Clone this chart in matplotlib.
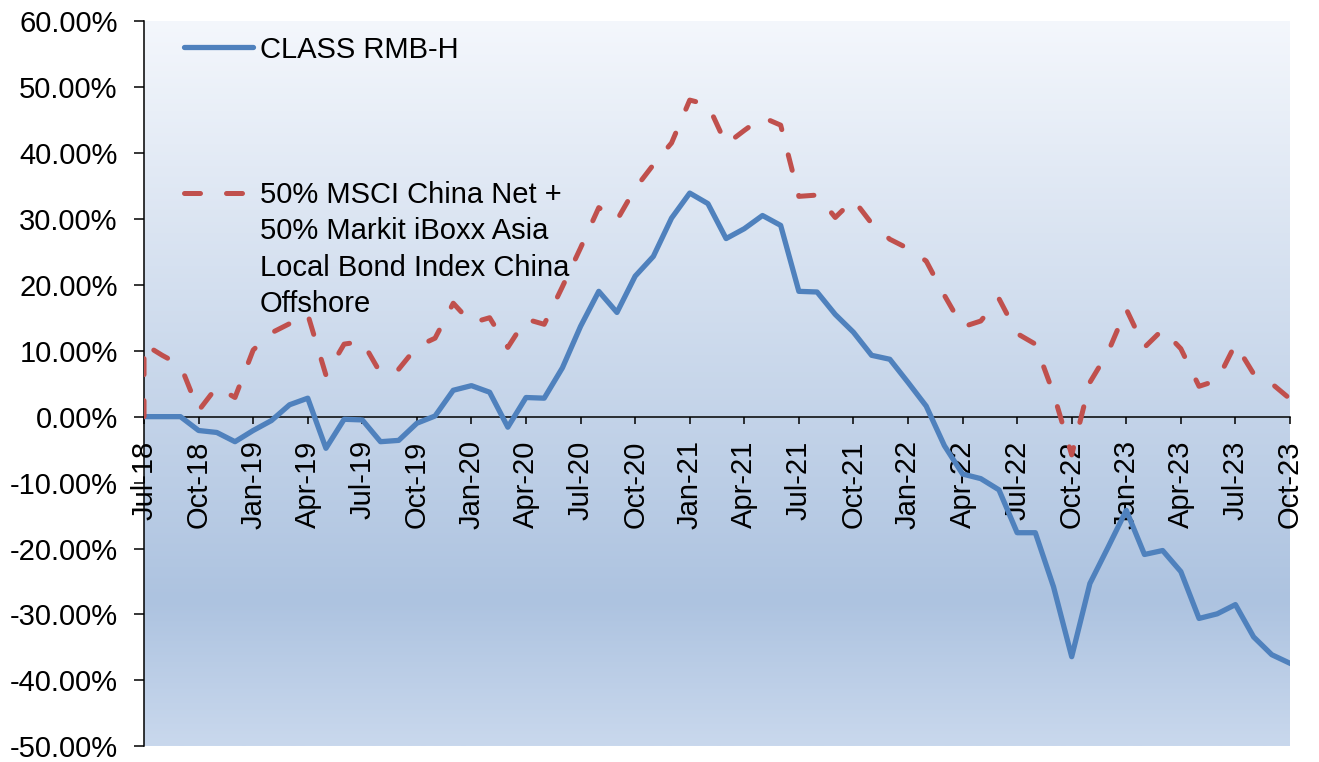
"""
plot.py — Class RMB-H vs benchmark, cumulative performance Jul-18 to Oct-23
"""

import numpy as np
import pandas as pd
import matplotlib
matplotlib.use("Agg")
import matplotlib.pyplot as plt
from matplotlib.colors import LinearSegmentedColormap
from matplotlib.ticker import FuncFormatter

plt.rcParams["font.family"] = ["Liberation Sans", "DejaVu Sans"]

# ─────────────────────────────────────────
# 1. Data (cumulative return, %)
# ─────────────────────────────────────────
months = pd.date_range("2018-07-01", "2023-10-01", freq="MS")

tick_labels = [
    "Jul-18", "Oct-18", "Jan-19", "Apr-19", "Jul-19", "Oct-19",
    "Jan-20", "Apr-20", "Jul-20", "Oct-20", "Jan-21", "Apr-21",
    "Jul-21", "Oct-21", "Jan-22", "Apr-22", "Jul-22", "Oct-22",
    "Jan-23", "Apr-23", "Jul-23", "Oct-23",
]

fund_label  = "CLASS RMB-H"
bench_label = "50% MSCI China Net +\n50% Markit iBoxx Asia\nLocal Bond Index China\nOffshore"

fund = [
    0.0, 0.0, 0.0, -2.1, -2.4, -3.8, -2.1, -0.6, 1.8, 2.8,
    -4.8, -0.4, -0.5, -3.8, -3.6, -1.0, 0.1, 4.0, 4.7, 3.7,
    -1.6, 2.9, 2.8, 7.4, 13.7, 19.0, 15.8, 21.3, 24.3, 30.1,
    33.9, 32.3, 27.0, 28.5, 30.5, 29.0, 19.0, 18.9, 15.5, 12.8,
    9.3, 8.7, 5.2, 1.6, -4.4, -8.7, -9.4, -11.1, -17.6, -17.6,
    -25.8, -36.4, -25.3, -19.8, -14.2, -20.9, -20.3, -23.5, -30.6, -29.9,
    -28.5, -33.4, -36.1, -37.4,
]

# benchmark starts from 0 at inception, then first month-end value
bench_idx = np.r_[0, np.arange(len(months))]
bench = [
    0.0,
    11.0, 9.3, 7.8, 0.9, 4.5, 2.9, 10.1, 12.7, 14.1, 15.5,
    6.3, 11.0, 11.4, 6.6, 7.2, 10.6, 11.9, 17.2, 14.2, 15.0,
    10.5, 14.8, 14.0, 19.7, 25.6, 31.7, 29.8, 34.6, 38.2, 41.5,
    48.0, 47.3, 41.3, 43.4, 45.4, 44.2, 33.4, 33.6, 30.2, 32.9,
    29.3, 26.9, 25.5, 23.6, 18.4, 13.6, 14.5, 17.9, 12.6, 11.0,
    3.5, -5.8, 5.2, 9.8, 16.3, 10.5, 13.2, 10.3, 4.6, 5.5,
    11.0, 6.5, 5.0, 2.7,
]

BLUE   = "#4F81BD"
RED    = "#C0504D"
FS     = 21.0
DASHES = (3.2, 5.2)

# ─────────────────────────────────────────
# 2. Figure
# ─────────────────────────────────────────
fig = plt.figure(figsize=(13.19, 7.62), dpi=100)
ax = fig.add_axes([0.1092, 0.0205, 0.8688, 0.952])

# gradient plot area background
bg = LinearSegmentedColormap.from_list(
    "bg", [(0.0, "#c9d8ed"), (0.2, "#adc3e0"), (1.0, "#f4f7fc")]
)
grad = np.linspace(0, 1, 256).reshape(-1, 1)
ax.imshow(grad, cmap=bg, aspect="auto", extent=[0, 1, 0, 1],
          origin="lower", transform=ax.transAxes, zorder=0)

x = np.arange(len(months))
ax.plot(x, fund, color=BLUE, lw=3.8, solid_joinstyle="round", zorder=3)
ax.plot(bench_idx, bench, color=RED, lw=3.6, dashes=DASHES,
        dash_capstyle="round", zorder=3)

ax.set_xlim(0, len(months) - 1)
ax.set_ylim(-50, 60)

# ── Axes styling ──
for s in ["top", "right"]:
    ax.spines[s].set_visible(False)
ax.spines["bottom"].set_position(("data", 0))
ax.spines["left"].set_linewidth(1.1)
ax.spines["bottom"].set_linewidth(1.1)

ax.set_yticks(np.arange(-50, 61, 10))
ax.yaxis.set_major_formatter(FuncFormatter(lambda v, p: f"{v:.2f}%"))
ax.set_xticks(np.arange(0, len(months), 3))
ax.set_xticklabels(tick_labels, rotation=90)

ax.tick_params(axis="y", length=7, width=1.1, pad=12, labelsize=FS)
ax.tick_params(axis="x", length=5, width=1.1, pad=12, labelsize=FS)

# ── Legend (Excel style, inside plot) ──
ax.plot([0.035, 0.095], [0.964, 0.964], transform=ax.transAxes,
        color=BLUE, lw=3.8, solid_capstyle="round", zorder=4)
ax.text(0.101, 0.964, fund_label, transform=ax.transAxes,
        va="center_baseline", ha="left", fontsize=FS, zorder=4)
ax.plot([0.035, 0.095], [0.763, 0.763], transform=ax.transAxes,
        color=RED, lw=3.6, dashes=DASHES, dash_capstyle="round", zorder=4)
ax.text(0.101, 0.779, bench_label, transform=ax.transAxes,
        va="top", ha="left", fontsize=FS, linespacing=1.37, zorder=4)

fig.savefig("out.png", dpi=100)
plt.close()
